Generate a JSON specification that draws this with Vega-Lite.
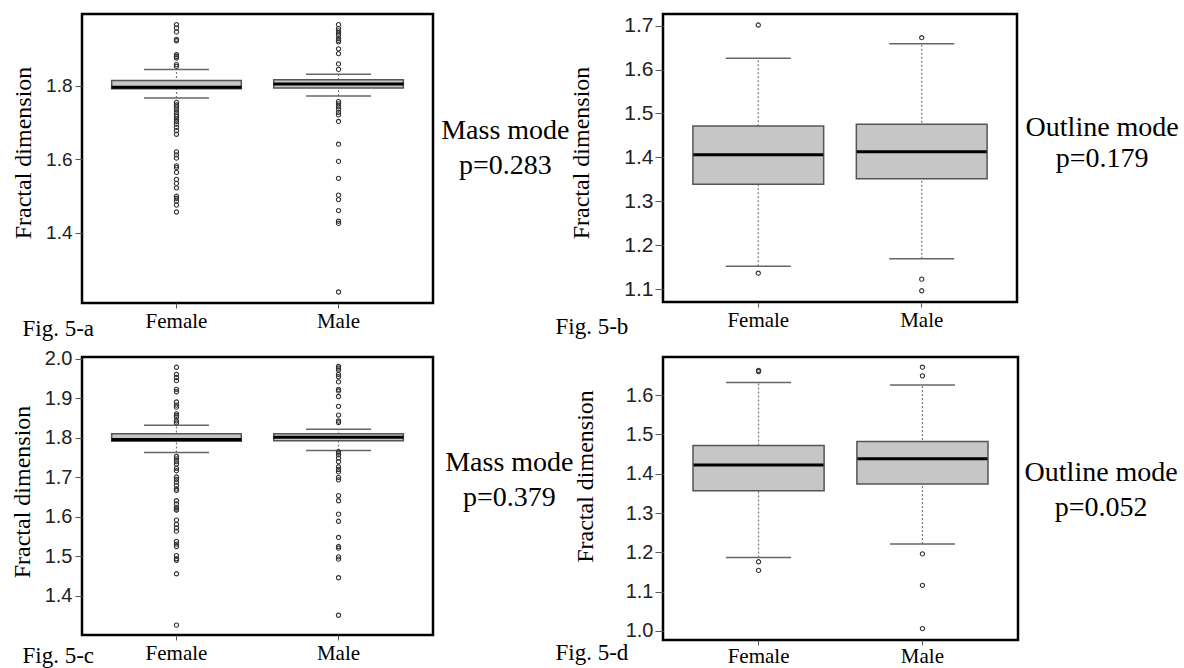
{
  "$schema": "https://vega.github.io/schema/vega-lite/v6.json",
  "background": "white",
  "padding": {"left": 8, "top": 12, "right": 2, "bottom": 0},
  "bounds": "flush",
  "columns": 2,
  "spacing": {"row": 54, "column": 230},
  "datasets": {
    "boxes": [
      {"panel": "a", "sex": "Female", "lo": 1.767, "q1": 1.792, "med": 1.796, "q3": 1.8145, "hi": 1.845},
      {"panel": "a", "sex": "Male", "lo": 1.7726, "q1": 1.7945, "med": 1.805, "q3": 1.8164, "hi": 1.832},
      {"panel": "b", "sex": "Female", "lo": 1.152, "q1": 1.3386, "med": 1.406, "q3": 1.4715, "hi": 1.6257},
      {"panel": "b", "sex": "Male", "lo": 1.169, "q1": 1.351, "med": 1.413, "q3": 1.4753, "hi": 1.659},
      {"panel": "c", "sex": "Female", "lo": 1.763, "q1": 1.7917, "med": 1.796, "q3": 1.8106, "hi": 1.832},
      {"panel": "c", "sex": "Male", "lo": 1.768, "q1": 1.793, "med": 1.802, "q3": 1.8106, "hi": 1.822},
      {"panel": "d", "sex": "Female", "lo": 1.187, "q1": 1.3566, "med": 1.422, "q3": 1.4716, "hi": 1.632},
      {"panel": "d", "sex": "Male", "lo": 1.221, "q1": 1.374, "med": 1.438, "q3": 1.4817, "hi": 1.626}
    ],
    "outliers": [
      {"panel": "a", "sex": "Female", "value": 1.967}, {"panel": "a", "sex": "Female", "value": 1.958}, {"panel": "a", "sex": "Female", "value": 1.947},
      {"panel": "a", "sex": "Female", "value": 1.927}, {"panel": "a", "sex": "Female", "value": 1.923}, {"panel": "a", "sex": "Female", "value": 1.885},
      {"panel": "a", "sex": "Female", "value": 1.880}, {"panel": "a", "sex": "Female", "value": 1.876}, {"panel": "a", "sex": "Female", "value": 1.858},
      {"panel": "a", "sex": "Female", "value": 1.853}, {"panel": "a", "sex": "Female", "value": 1.755}, {"panel": "a", "sex": "Female", "value": 1.748},
      {"panel": "a", "sex": "Female", "value": 1.742}, {"panel": "a", "sex": "Female", "value": 1.735}, {"panel": "a", "sex": "Female", "value": 1.728},
      {"panel": "a", "sex": "Female", "value": 1.721}, {"panel": "a", "sex": "Female", "value": 1.716}, {"panel": "a", "sex": "Female", "value": 1.710},
      {"panel": "a", "sex": "Female", "value": 1.703}, {"panel": "a", "sex": "Female", "value": 1.696}, {"panel": "a", "sex": "Female", "value": 1.687},
      {"panel": "a", "sex": "Female", "value": 1.678}, {"panel": "a", "sex": "Female", "value": 1.668}, {"panel": "a", "sex": "Female", "value": 1.620},
      {"panel": "a", "sex": "Female", "value": 1.612}, {"panel": "a", "sex": "Female", "value": 1.603}, {"panel": "a", "sex": "Female", "value": 1.582},
      {"panel": "a", "sex": "Female", "value": 1.577}, {"panel": "a", "sex": "Female", "value": 1.564}, {"panel": "a", "sex": "Female", "value": 1.545},
      {"panel": "a", "sex": "Female", "value": 1.534}, {"panel": "a", "sex": "Female", "value": 1.522}, {"panel": "a", "sex": "Female", "value": 1.499},
      {"panel": "a", "sex": "Female", "value": 1.493}, {"panel": "a", "sex": "Female", "value": 1.486}, {"panel": "a", "sex": "Female", "value": 1.475},
      {"panel": "a", "sex": "Female", "value": 1.456},
      {"panel": "a", "sex": "Male", "value": 1.967}, {"panel": "a", "sex": "Male", "value": 1.956}, {"panel": "a", "sex": "Male", "value": 1.950},
      {"panel": "a", "sex": "Male", "value": 1.944}, {"panel": "a", "sex": "Male", "value": 1.938}, {"panel": "a", "sex": "Male", "value": 1.929},
      {"panel": "a", "sex": "Male", "value": 1.924}, {"panel": "a", "sex": "Male", "value": 1.920}, {"panel": "a", "sex": "Male", "value": 1.901},
      {"panel": "a", "sex": "Male", "value": 1.888}, {"panel": "a", "sex": "Male", "value": 1.860}, {"panel": "a", "sex": "Male", "value": 1.845},
      {"panel": "a", "sex": "Male", "value": 1.757}, {"panel": "a", "sex": "Male", "value": 1.751}, {"panel": "a", "sex": "Male", "value": 1.744},
      {"panel": "a", "sex": "Male", "value": 1.737}, {"panel": "a", "sex": "Male", "value": 1.728}, {"panel": "a", "sex": "Male", "value": 1.721},
      {"panel": "a", "sex": "Male", "value": 1.703}, {"panel": "a", "sex": "Male", "value": 1.641}, {"panel": "a", "sex": "Male", "value": 1.594},
      {"panel": "a", "sex": "Male", "value": 1.548}, {"panel": "a", "sex": "Male", "value": 1.502}, {"panel": "a", "sex": "Male", "value": 1.490},
      {"panel": "a", "sex": "Male", "value": 1.460}, {"panel": "a", "sex": "Male", "value": 1.431}, {"panel": "a", "sex": "Male", "value": 1.425},
      {"panel": "a", "sex": "Male", "value": 1.238},
      {"panel": "b", "sex": "Female", "value": 1.7016}, {"panel": "b", "sex": "Female", "value": 1.136},
      {"panel": "b", "sex": "Male", "value": 1.6727}, {"panel": "b", "sex": "Male", "value": 1.1224}, {"panel": "b", "sex": "Male", "value": 1.096},
      {"panel": "c", "sex": "Female", "value": 1.979}, {"panel": "c", "sex": "Female", "value": 1.961}, {"panel": "c", "sex": "Female", "value": 1.953},
      {"panel": "c", "sex": "Female", "value": 1.945}, {"panel": "c", "sex": "Female", "value": 1.923}, {"panel": "c", "sex": "Female", "value": 1.917},
      {"panel": "c", "sex": "Female", "value": 1.891}, {"panel": "c", "sex": "Female", "value": 1.883}, {"panel": "c", "sex": "Female", "value": 1.878},
      {"panel": "c", "sex": "Female", "value": 1.861}, {"panel": "c", "sex": "Female", "value": 1.857}, {"panel": "c", "sex": "Female", "value": 1.853},
      {"panel": "c", "sex": "Female", "value": 1.843}, {"panel": "c", "sex": "Female", "value": 1.838}, {"panel": "c", "sex": "Female", "value": 1.753},
      {"panel": "c", "sex": "Female", "value": 1.747}, {"panel": "c", "sex": "Female", "value": 1.740}, {"panel": "c", "sex": "Female", "value": 1.734},
      {"panel": "c", "sex": "Female", "value": 1.723}, {"panel": "c", "sex": "Female", "value": 1.717}, {"panel": "c", "sex": "Female", "value": 1.701},
      {"panel": "c", "sex": "Female", "value": 1.695}, {"panel": "c", "sex": "Female", "value": 1.688}, {"panel": "c", "sex": "Female", "value": 1.680},
      {"panel": "c", "sex": "Female", "value": 1.671}, {"panel": "c", "sex": "Female", "value": 1.667}, {"panel": "c", "sex": "Female", "value": 1.641},
      {"panel": "c", "sex": "Female", "value": 1.633}, {"panel": "c", "sex": "Female", "value": 1.624}, {"panel": "c", "sex": "Female", "value": 1.620},
      {"panel": "c", "sex": "Female", "value": 1.617}, {"panel": "c", "sex": "Female", "value": 1.592}, {"panel": "c", "sex": "Female", "value": 1.581},
      {"panel": "c", "sex": "Female", "value": 1.572}, {"panel": "c", "sex": "Female", "value": 1.564}, {"panel": "c", "sex": "Female", "value": 1.538},
      {"panel": "c", "sex": "Female", "value": 1.531}, {"panel": "c", "sex": "Female", "value": 1.525}, {"panel": "c", "sex": "Female", "value": 1.502},
      {"panel": "c", "sex": "Female", "value": 1.494}, {"panel": "c", "sex": "Female", "value": 1.490}, {"panel": "c", "sex": "Female", "value": 1.456},
      {"panel": "c", "sex": "Female", "value": 1.326},
      {"panel": "c", "sex": "Male", "value": 1.981}, {"panel": "c", "sex": "Male", "value": 1.977}, {"panel": "c", "sex": "Male", "value": 1.972},
      {"panel": "c", "sex": "Male", "value": 1.961}, {"panel": "c", "sex": "Male", "value": 1.955}, {"panel": "c", "sex": "Male", "value": 1.942},
      {"panel": "c", "sex": "Male", "value": 1.923}, {"panel": "c", "sex": "Male", "value": 1.919}, {"panel": "c", "sex": "Male", "value": 1.905},
      {"panel": "c", "sex": "Male", "value": 1.880}, {"panel": "c", "sex": "Male", "value": 1.858}, {"panel": "c", "sex": "Male", "value": 1.843},
      {"panel": "c", "sex": "Male", "value": 1.839}, {"panel": "c", "sex": "Male", "value": 1.765}, {"panel": "c", "sex": "Male", "value": 1.762},
      {"panel": "c", "sex": "Male", "value": 1.757}, {"panel": "c", "sex": "Male", "value": 1.749}, {"panel": "c", "sex": "Male", "value": 1.740},
      {"panel": "c", "sex": "Male", "value": 1.727}, {"panel": "c", "sex": "Male", "value": 1.720}, {"panel": "c", "sex": "Male", "value": 1.714},
      {"panel": "c", "sex": "Male", "value": 1.700}, {"panel": "c", "sex": "Male", "value": 1.694}, {"panel": "c", "sex": "Male", "value": 1.654},
      {"panel": "c", "sex": "Male", "value": 1.641}, {"panel": "c", "sex": "Male", "value": 1.607}, {"panel": "c", "sex": "Male", "value": 1.589},
      {"panel": "c", "sex": "Male", "value": 1.548}, {"panel": "c", "sex": "Male", "value": 1.525}, {"panel": "c", "sex": "Male", "value": 1.521},
      {"panel": "c", "sex": "Male", "value": 1.499}, {"panel": "c", "sex": "Male", "value": 1.493}, {"panel": "c", "sex": "Male", "value": 1.446},
      {"panel": "c", "sex": "Male", "value": 1.351},
      {"panel": "d", "sex": "Female", "value": 1.663}, {"panel": "d", "sex": "Female", "value": 1.660},
      {"panel": "d", "sex": "Female", "value": 1.176}, {"panel": "d", "sex": "Female", "value": 1.154},
      {"panel": "d", "sex": "Male", "value": 1.671}, {"panel": "d", "sex": "Male", "value": 1.649}, {"panel": "d", "sex": "Male", "value": 1.196},
      {"panel": "d", "sex": "Male", "value": 1.116}, {"panel": "d", "sex": "Male", "value": 1.006}
    ]
  },
  "concat": [
    {
      "width": 351, "height": 289,
      "title": {"text": ["Mass mode", "p=0.283"], "offset": -56, "dy": -42},
      "encoding": {"x": {"field": "sex", "type": "nominal", "scale": {"type": "band", "domain": ["Female", "Male"], "paddingInner": 0.2, "paddingOuter": 0.183}, "axis": {"title": "Fig. 5-a", "titleX": -60, "titleY": 32, "labelFont": "Liberation Serif", "titleFont": "Liberation Serif"}}},
      "layer": [
        {"data": {"name": "boxes"}, "transform": [{"filter": "datum.panel == 'a'"}],
         "layer": [
           {"mark": {"type": "rule", "color": "#777", "strokeDash": [2, 2], "strokeWidth": 1.2},
            "encoding": {"y": {"field": "lo", "type": "quantitative", "scale": {"domain": [1.208, 1.996], "zero": false, "nice": false},
              "axis": {"title": "Fractal dimension", "values": [1.4, 1.6, 1.8], "format": ".1f", "labelFont": "Liberation Sans", "titleFont": "Liberation Serif", "labelFontSize": 19, "labelPadding": 3, "tickSize": 7, "titlePadding": 10, "titleY": 138.5}},
              "y2": {"field": "hi"}}},
           {"mark": {"type": "tick", "color": "#666", "opacity": 1, "size": 65, "thickness": 1.5}, "encoding": {"y": {"field": "lo", "type": "quantitative", "scale": {"domain": [1.208, 1.996], "zero": false, "nice": false}}}},
           {"mark": {"type": "tick", "color": "#666", "opacity": 1, "size": 65, "thickness": 1.5}, "encoding": {"y": {"field": "hi", "type": "quantitative", "scale": {"domain": [1.208, 1.996], "zero": false, "nice": false}}}},
           {"mark": {"type": "bar", "fill": "#c6c6c6", "stroke": "#555", "strokeWidth": 1.5}, "encoding": {"y": {"field": "q1", "type": "quantitative", "scale": {"domain": [1.208, 1.996], "zero": false, "nice": false}}, "y2": {"field": "q3"}}},
           {"mark": {"type": "tick", "color": "black", "opacity": 1, "size": 130, "thickness": 3}, "encoding": {"y": {"field": "med", "type": "quantitative", "scale": {"domain": [1.208, 1.996], "zero": false, "nice": false}}}}
         ]},
        {"data": {"name": "outliers"}, "transform": [{"filter": "datum.panel == 'a'"}],
         "mark": {"type": "point", "shape": "circle", "filled": false, "color": "#333", "opacity": 1, "size": 18, "strokeWidth": 1.1},
         "encoding": {"y": {"field": "value", "type": "quantitative", "scale": {"domain": [1.208, 1.996], "zero": false, "nice": false}}}}
      ]
    },
    {
      "width": 354, "height": 288,
      "title": {"text": ["Outline mode", "p=0.179"], "offset": -68, "dy": -44, "lineHeight": 31},
      "encoding": {"x": {"field": "sex", "type": "nominal", "scale": {"type": "band", "domain": ["Female", "Male"], "paddingInner": 0.2, "paddingOuter": 0.183}, "axis": {"title": "Fig. 5-b", "titleX": -108, "titleY": 31, "labelFont": "Liberation Serif", "titleFont": "Liberation Serif"}}},
      "layer": [
        {"data": {"name": "boxes"}, "transform": [{"filter": "datum.panel == 'b'"}],
         "layer": [
           {"mark": {"type": "rule", "color": "#777", "strokeDash": [2, 2], "strokeWidth": 1.2},
            "encoding": {"y": {"field": "lo", "type": "quantitative", "scale": {"domain": [1.0704, 1.7267], "zero": false, "nice": false},
              "axis": {"title": "Fractal dimension", "values": [1.1, 1.2, 1.3, 1.4, 1.5, 1.6, 1.7], "format": ".1f", "labelFont": "Liberation Sans", "titleFont": "Liberation Serif", "labelFontSize": 21, "labelPadding": 2, "tickSize": 8, "titlePadding": 30, "titleY": 138.5}},
              "y2": {"field": "hi"}}},
           {"mark": {"type": "tick", "color": "#666", "opacity": 1, "size": 65, "thickness": 1.5}, "encoding": {"y": {"field": "lo", "type": "quantitative", "scale": {"domain": [1.0704, 1.7267], "zero": false, "nice": false}}}},
           {"mark": {"type": "tick", "color": "#666", "opacity": 1, "size": 65, "thickness": 1.5}, "encoding": {"y": {"field": "hi", "type": "quantitative", "scale": {"domain": [1.0704, 1.7267], "zero": false, "nice": false}}}},
           {"mark": {"type": "bar", "fill": "#c6c6c6", "stroke": "#555", "strokeWidth": 1.5}, "encoding": {"y": {"field": "q1", "type": "quantitative", "scale": {"domain": [1.0704, 1.7267], "zero": false, "nice": false}}, "y2": {"field": "q3"}}},
           {"mark": {"type": "tick", "color": "black", "opacity": 1, "size": 130, "thickness": 3}, "encoding": {"y": {"field": "med", "type": "quantitative", "scale": {"domain": [1.0704, 1.7267], "zero": false, "nice": false}}}}
         ]},
        {"data": {"name": "outliers"}, "transform": [{"filter": "datum.panel == 'b'"}],
         "mark": {"type": "point", "shape": "circle", "filled": false, "color": "#333", "opacity": 1, "size": 18, "strokeWidth": 1.1},
         "encoding": {"y": {"field": "value", "type": "quantitative", "scale": {"domain": [1.0704, 1.7267], "zero": false, "nice": false}}}}
      ]
    },
    {
      "width": 351, "height": 278,
      "title": {"text": ["Mass mode", "p=0.379"], "offset": -52, "dy": -47},
      "encoding": {"x": {"field": "sex", "type": "nominal", "scale": {"type": "band", "domain": ["Female", "Male"], "paddingInner": 0.2, "paddingOuter": 0.183}, "axis": {"title": "Fig. 5-c", "titleX": -60, "titleY": 27, "labelFont": "Liberation Serif", "titleFont": "Liberation Serif"}}},
      "layer": [
        {"data": {"name": "boxes"}, "transform": [{"filter": "datum.panel == 'c'"}],
         "layer": [
           {"mark": {"type": "rule", "color": "#777", "strokeDash": [2, 2], "strokeWidth": 1.2},
            "encoding": {"y": {"field": "lo", "type": "quantitative", "scale": {"domain": [1.301, 2.005], "zero": false, "nice": false},
              "axis": {"title": "Fractal dimension", "values": [1.4, 1.5, 1.6, 1.7, 1.8, 1.9, 2.0], "format": ".1f", "labelFont": "Liberation Sans", "titleFont": "Liberation Serif", "labelFontSize": 20, "labelPadding": 3, "tickSize": 7, "titlePadding": 10, "titleY": 134.5}},
              "y2": {"field": "hi"}}},
           {"mark": {"type": "tick", "color": "#666", "opacity": 1, "size": 65, "thickness": 1.5}, "encoding": {"y": {"field": "lo", "type": "quantitative", "scale": {"domain": [1.301, 2.005], "zero": false, "nice": false}}}},
           {"mark": {"type": "tick", "color": "#666", "opacity": 1, "size": 65, "thickness": 1.5}, "encoding": {"y": {"field": "hi", "type": "quantitative", "scale": {"domain": [1.301, 2.005], "zero": false, "nice": false}}}},
           {"mark": {"type": "bar", "fill": "#c6c6c6", "stroke": "#555", "strokeWidth": 1.5}, "encoding": {"y": {"field": "q1", "type": "quantitative", "scale": {"domain": [1.301, 2.005], "zero": false, "nice": false}}, "y2": {"field": "q3"}}},
           {"mark": {"type": "tick", "color": "black", "opacity": 1, "size": 130, "thickness": 3}, "encoding": {"y": {"field": "med", "type": "quantitative", "scale": {"domain": [1.301, 2.005], "zero": false, "nice": false}}}}
         ]},
        {"data": {"name": "outliers"}, "transform": [{"filter": "datum.panel == 'c'"}],
         "mark": {"type": "point", "shape": "circle", "filled": false, "color": "#333", "opacity": 1, "size": 18, "strokeWidth": 1.1},
         "encoding": {"y": {"field": "value", "type": "quantitative", "scale": {"domain": [1.301, 2.005], "zero": false, "nice": false}}}}
      ]
    },
    {
      "width": 355, "height": 283,
      "title": {"text": ["Outline mode", "p=0.052"], "offset": -70, "dy": -40},
      "encoding": {"x": {"field": "sex", "type": "nominal", "scale": {"type": "band", "domain": ["Female", "Male"], "paddingInner": 0.2, "paddingOuter": 0.183}, "axis": {"title": "Fig. 5-d", "titleX": -108, "titleY": 19, "labelFont": "Liberation Serif", "titleFont": "Liberation Serif", "labelPadding": 0}}},
      "layer": [
        {"data": {"name": "boxes"}, "transform": [{"filter": "datum.panel == 'd'"}],
         "layer": [
           {"mark": {"type": "rule", "color": "#777", "strokeDash": [2, 2], "strokeWidth": 1.2},
            "encoding": {"y": {"field": "lo", "type": "quantitative", "scale": {"domain": [0.977, 1.697], "zero": false, "nice": false},
              "axis": {"title": "Fractal dimension", "values": [1.0, 1.1, 1.2, 1.3, 1.4, 1.5, 1.6], "format": ".1f", "labelFont": "Liberation Sans", "titleFont": "Liberation Serif", "labelFontSize": 20, "labelPadding": 2, "tickSize": 8, "titlePadding": 28, "titleY": 119}},
              "y2": {"field": "hi"}}},
           {"mark": {"type": "tick", "color": "#666", "opacity": 1, "size": 65, "thickness": 1.5}, "encoding": {"y": {"field": "lo", "type": "quantitative", "scale": {"domain": [0.977, 1.697], "zero": false, "nice": false}}}},
           {"mark": {"type": "tick", "color": "#666", "opacity": 1, "size": 65, "thickness": 1.5}, "encoding": {"y": {"field": "hi", "type": "quantitative", "scale": {"domain": [0.977, 1.697], "zero": false, "nice": false}}}},
           {"mark": {"type": "bar", "fill": "#c6c6c6", "stroke": "#555", "strokeWidth": 1.5}, "encoding": {"y": {"field": "q1", "type": "quantitative", "scale": {"domain": [0.977, 1.697], "zero": false, "nice": false}}, "y2": {"field": "q3"}}},
           {"mark": {"type": "tick", "color": "black", "opacity": 1, "size": 130, "thickness": 3}, "encoding": {"y": {"field": "med", "type": "quantitative", "scale": {"domain": [0.977, 1.697], "zero": false, "nice": false}}}}
         ]},
        {"data": {"name": "outliers"}, "transform": [{"filter": "datum.panel == 'd'"}],
         "mark": {"type": "point", "shape": "circle", "filled": false, "color": "#333", "opacity": 1, "size": 18, "strokeWidth": 1.1},
         "encoding": {"y": {"field": "value", "type": "quantitative", "scale": {"domain": [0.977, 1.697], "zero": false, "nice": false}}}}
      ]
    }
  ],
  "config": {
    "font": "Liberation Serif",
    "view": {"stroke": "black", "strokeWidth": 2.5},
    "axis": {"domain": false, "grid": false, "tickColor": "#555", "labelColor": "#222", "titleColor": "black", "titleFontWeight": "normal", "titleFont": "Liberation Serif", "labelFont": "Liberation Sans"},
    "axisX": {"labelFont": "Liberation Serif", "labelFontSize": 21, "labelColor": "black", "tickSize": 5, "labelPadding": 2, "labelAngle": 0, "titleFontSize": 23, "titleAlign": "left", "titleBaseline": "alphabetic"},
    "axisY": {"titleFontSize": 24, "labelFont": "Liberation Sans"},
    "title": {"font": "Liberation Serif", "fontSize": 28, "fontWeight": "normal", "color": "black", "orient": "right", "anchor": "middle", "angle": 0, "align": "center", "baseline": "middle", "lineHeight": 35, "frame": "group"}
  }
}
